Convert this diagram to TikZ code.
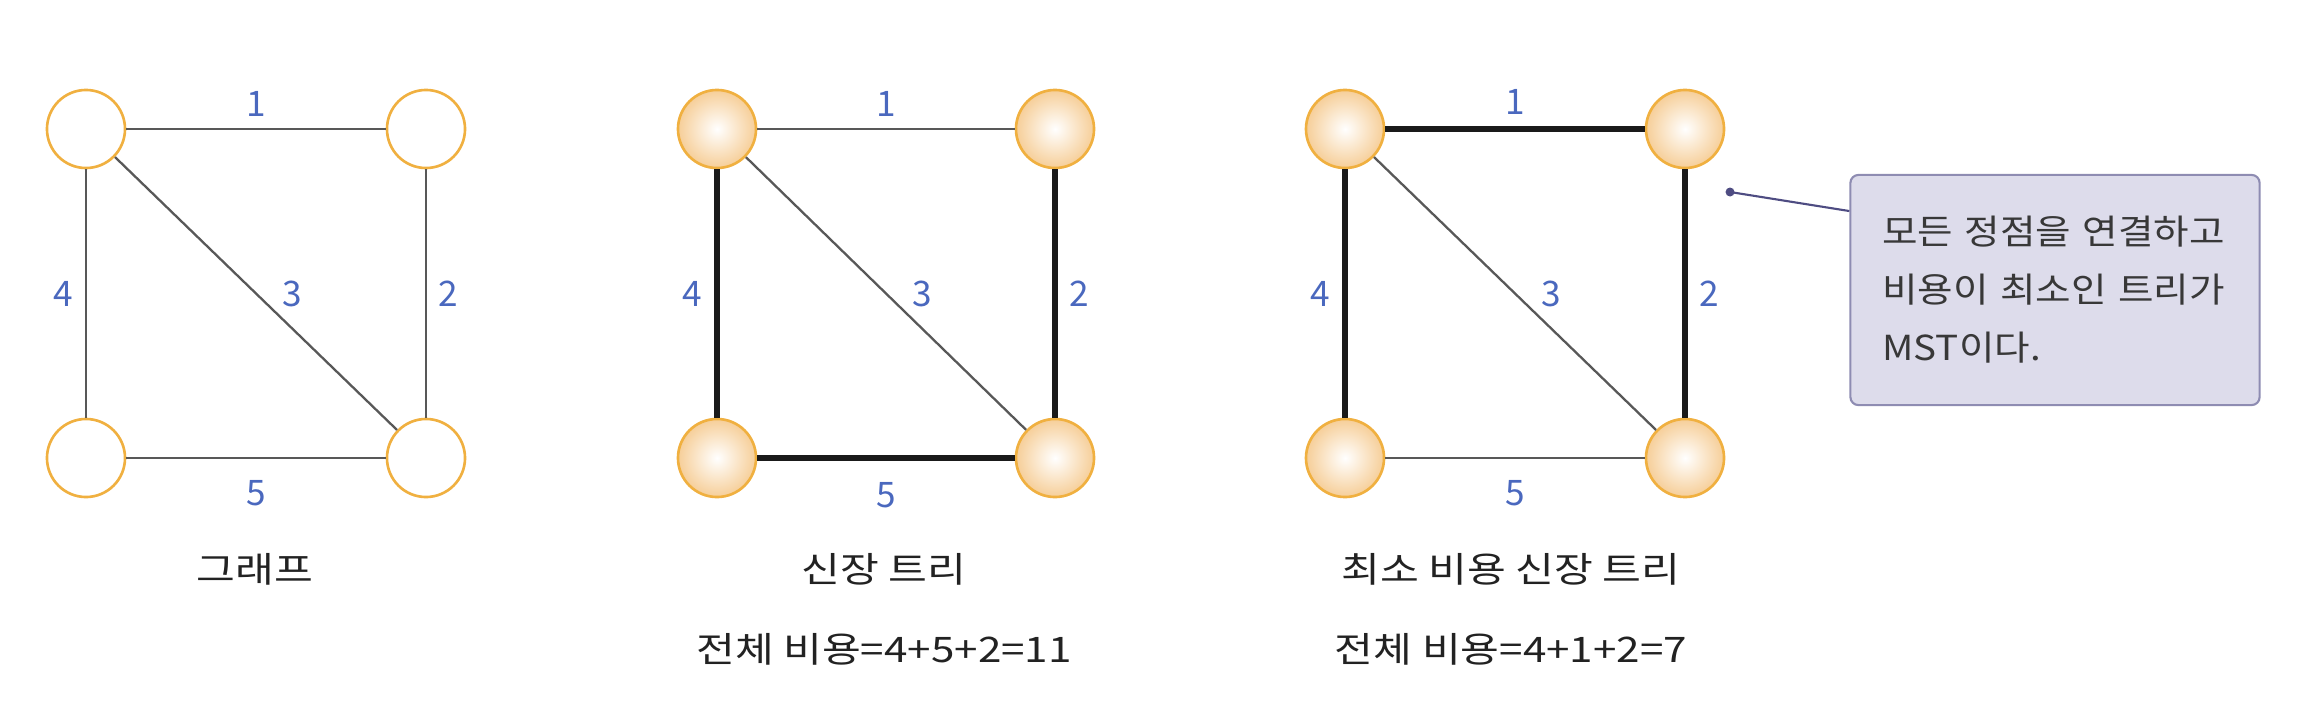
\documentclass[tikz,border=0pt]{standalone}
\usepackage{fontspec}
\setmainfont{Noto Sans CJK KR}
\newfontfamily\capfont[FakeStretch=1.2]{Noto Sans CJK KR}
\newfontfamily\notefont[WordSpace=3.2, FakeStretch=1.12]{Noto Sans CJK KR}
\usetikzlibrary{positioning}
\definecolor{VtxRim}{HTML}{F0B040}
\definecolor{VtxFill}{HTML}{F6CE98}
\definecolor{EdgeGray}{HTML}{585858}
\definecolor{EdgeDark}{HTML}{1A1A1A}
\definecolor{WeightBlue}{HTML}{4A68BE}
\definecolor{CapText}{HTML}{222222}
\definecolor{NoteFill}{HTML}{DDDCEB}
\definecolor{NoteRim}{HTML}{8E8CB2}
\definecolor{PinLine}{HTML}{4E4C82}

\begin{document}
\begin{tikzpicture}[x=0.01cm, y=-0.01cm,
        vtx/.style={circle, draw=VtxRim, line width=0.75pt, fill=white, minimum size=0.78cm, inner sep=0pt},
        vball/.style={vtx, shading=radial, inner color=white, outer color=VtxFill},
        edge/.style={draw=EdgeGray, line width=0.65pt},
        tedge/.style={draw=EdgeDark, line width=1.8pt},
        wlbl/.style={text=WeightBlue, font=\fontsize{10}{12}\selectfont},
        captxt/.style={text=CapText, font=\capfont\fontsize{10}{12}\selectfont},
        note/.style={draw=NoteRim, fill=NoteFill, line width=0.6pt, rounded corners=0.08cm, minimum width=4.09cm, minimum height=2.3cm, text width=3.45cm, align=left, text=CapText!90, font=\notefont\fontsize{9.8}{16.5}\selectfont}
    ]
        \useasboundingbox (0,0) rectangle (2322,718);

        % Graph
        \node[vtx] (a1) at (86, 129) {};
        \node[vtx] (b1) at (426, 129) {};
        \node[vtx] (c1) at (86, 458) {};
        \node[vtx] (d1) at (426, 458) {};
        \draw[edge] (a1) -- node[wlbl, above] {1} (b1);
        \draw[edge] (b1) -- node[wlbl, right] {2} (d1);
        \draw[edge] (a1) -- node[wlbl, right, xshift=0.14cm] {3} (d1);
        \draw[edge] (a1) -- node[wlbl, left] {4} (c1);
        \draw[edge] (c1) -- node[wlbl, below, yshift=-0.1cm] {5} (d1);
        \node[captxt] (g1) at (255, 569) {그래프};

        % Spanning tree
        \node[vball] (a2) at (717, 129) {};
        \node[vball] (b2) at (1055, 129) {};
        \node[vball] (c2) at (717, 458) {};
        \node[vball] (d2) at (1055, 458) {};
        \draw[edge] (a2) -- node[wlbl, above] {1} (b2);
        \draw[tedge] (b2) -- node[wlbl, right] {2} (d2);
        \draw[edge] (a2) -- node[wlbl, right, xshift=0.14cm] {3} (d2);
        \draw[tedge] (a2) -- node[wlbl, left] {4} (c2);
        \draw[tedge] (c2) -- node[wlbl, below, yshift=-0.1cm] {5} (d2);
        \node[captxt] (g2) at (884, 569) {신장 트리};
        \node[captxt] (s2) at (884, 649) {전체 비용=4+5+2=11};

        % Minimum spanning tree
        \node[vball] (a3) at (1345, 129) {};
        \node[vball] (b3) at (1685, 129) {};
        \node[vball] (c3) at (1345, 458) {};
        \node[vball] (d3) at (1685, 458) {};
        \draw[tedge] (a3) -- node[wlbl, above] {1} (b3);
        \draw[tedge] (b3) -- node[wlbl, right] {2} (d3);
        \draw[edge] (a3) -- node[wlbl, right, xshift=0.14cm] {3} (d3);
        \draw[tedge] (a3) -- node[wlbl, left] {4} (c3);
        \draw[edge] (c3) -- node[wlbl, below, yshift=-0.1cm] {5} (d3);
        \node[captxt] (g3) at (1511, 569) {최소 비용 신장 트리};
        \node[captxt] (s3) at (1511, 649) {전체 비용=4+1+2=7};

        % Note
        \node[note] (mst) at (2055, 290) {모든 정점을 연결하고\\비용이 최소인 트리가\\MST이다.};
        \coordinate (pin) at (1730, 192);
        \fill[PinLine] (pin) circle (0.045cm);
        \draw[PinLine, line width=0.6pt] (pin) -- (mst.159);
    \end{tikzpicture}
\end{document}
